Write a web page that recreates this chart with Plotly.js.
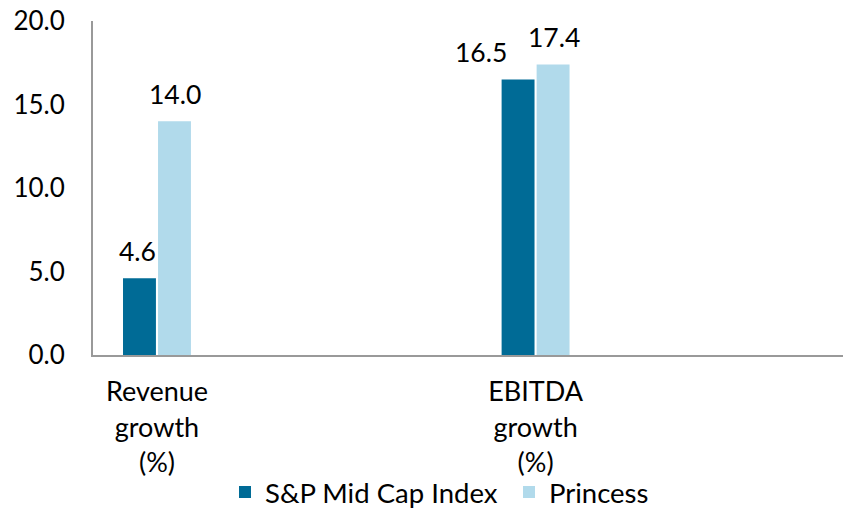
<!DOCTYPE html>
<html>
<head>
<meta charset="utf-8">
<script src="https://cdn.plot.ly/plotly-3.0.1.min.js"></script>
<style>html,body{margin:0;padding:0;background:#fff;}#chart{width:843px;height:511px;}</style>
</head>
<body>
<div id="chart"></div>
<script>
const categories = ["Revenue<br>growth<br>(%)", "EBITDA<br>growth<br>(%)"];
const categoryPositions = [0, 1];
const seriesNames = ["S&P Mid Cap Index", "Princess"];
const spMidCap = [4.6, 16.5];
const princess = [14.0, 17.4];
const yTickValues = [0, 5, 10, 15, 20];
const yTickLabels = ["0.0", "5.0", "10.0", "15.0", "20.0"];

const FONT = "Lato, 'Open Sans', sans-serif";
const FS = 26;
const fmt = v => v.toFixed(1);

const traces = [
  {
    type: "bar", name: seriesNames[0], x: categoryPositions, y: spMidCap,
    marker: {color: "#006B96"}, hoverinfo: "skip"
  },
  {
    type: "bar", name: seriesNames[1], x: categoryPositions, y: princess,
    marker: {color: "#B1DAEB"}, hoverinfo: "skip"
  }
];

// value labels above bars (data coordinates; shifts only offset within the bar group)
const darkShift = [-19, -55];
const lightShift = [18, 18];
const annotations = [];
categoryPositions.forEach((c, i) => {
  annotations.push({x: c, y: spMidCap[i], xref: "x", yref: "y", text: fmt(spMidCap[i]),
    showarrow: false, yanchor: "bottom", xanchor: "center", xshift: darkShift[i], yshift: 9,
    font: {family: FONT, size: FS + 0.5, color: "#000"}});
  annotations.push({x: c, y: princess[i], xref: "x", yref: "y", text: fmt(princess[i]),
    showarrow: false, yanchor: "bottom", xanchor: "center", xshift: lightShift[i], yshift: 9,
    font: {family: FONT, size: FS + 0.5, color: "#000"}});
});

const layout = {
  width: 843, height: 511,
  margin: {l: 93, r: 0, t: 21, b: 156, pad: 0},
  paper_bgcolor: "#fff", plot_bgcolor: "#fff",
  font: {family: FONT, size: FS, color: "#000"},
  barmode: "group", bargap: 0.815, bargroupgap: 0.06,
  showlegend: true,
  legend: {orientation: "h", x: 225 / 843, xanchor: "left", xref: "container",
           yref: "container", y: 1 - 492 / 511, yanchor: "middle",
           entrywidth: 239, entrywidthmode: "pixels",
           font: {family: FONT, size: 27.5, color: "#000"}, bgcolor: "rgba(0,0,0,0)"},
  annotations: annotations,
  xaxis: {
    type: "linear", range: [-0.169, 1.812],
    tickmode: "array", tickvals: categoryPositions, ticktext: categories,
    showgrid: false, zeroline: false, showline: true, linecolor: "#999", linewidth: 2,
    ticks: "", ticklabelstandoff: 12, fixedrange: true, automargin: false,
    tickfont: {family: FONT, size: 27, color: "#000"}
  },
  yaxis: {
    range: [0, 20], tickmode: "array", tickvals: yTickValues, ticktext: yTickLabels,
    showgrid: false, zeroline: false, showline: true, linecolor: "#999", linewidth: 2,
    ticks: "", ticklabelstandoff: 21, fixedrange: true, automargin: false,
    tickfont: {family: FONT, size: FS, color: "#000"}
  }
};

Plotly.newPlot("chart", traces, layout, {staticPlot: true, displayModeBar: false});
</script>
</body>
</html>
